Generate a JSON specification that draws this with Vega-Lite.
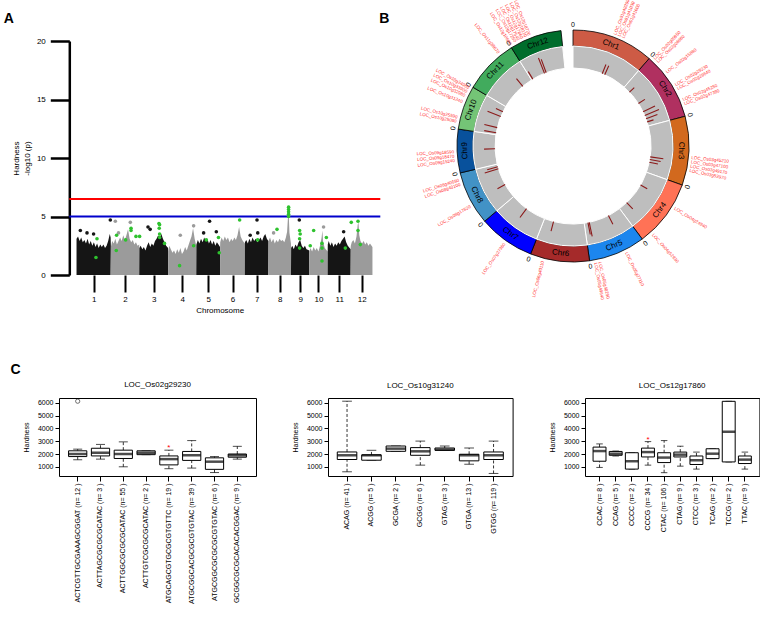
{
"$schema": "https://vega.github.io/schema/vega-lite/v6.json",
"padding": {"left": 3, "top": -2, "right": 0, "bottom": 0},
"autosize": {"type": "pad"},
"config": {
 "font": "Liberation Sans",
 "view": {"stroke": null},
 "axis": {"grid": false, "labelColor": "#000", "titleColor": "#000", "domainColor": "#000", "tickColor": "#000", "titleFontWeight": "normal", "labelFont": "Liberation Sans", "titleFont": "Liberation Sans", "labelOverlap": false},
 "title": {"font": "Liberation Sans", "color": "#000", "fontWeight": "normal"}
},
"datasets": {
 "mass": [
  {"chr":"1","pos":0.1,"val":3.1},{"chr":"1","pos":2,"val":3.3},{"chr":"1","pos":4,"val":2.9},{"chr":"1","pos":6,"val":3.2},{"chr":"1","pos":8,"val":2.8},{"chr":"1","pos":10,"val":3.0},{"chr":"1","pos":12,"val":2.7},{"chr":"1","pos":14,"val":3.1},{"chr":"1","pos":16,"val":2.6},{"chr":"1","pos":18,"val":2.9},{"chr":"1","pos":20,"val":2.5},{"chr":"1","pos":22,"val":2.8},{"chr":"1","pos":24,"val":2.4},{"chr":"1","pos":26,"val":2.7},{"chr":"1","pos":28,"val":2.3},{"chr":"1","pos":30,"val":2.6},{"chr":"1","pos":32,"val":2.4},{"chr":"1","pos":34,"val":2.6},{"chr":"1","pos":36,"val":2.3},{"chr":"1","pos":38,"val":2.5},{"chr":"1","pos":40,"val":2.9},{"chr":"1","pos":42,"val":3.5},{"chr":"1","pos":43.1,"val":3.2},
  {"chr":"2","pos":43.4,"val":2.4},{"chr":"2","pos":45,"val":2.9},{"chr":"2","pos":47,"val":2.7},{"chr":"2","pos":49,"val":3.1},{"chr":"2","pos":51,"val":2.6},{"chr":"2","pos":53,"val":2.9},{"chr":"2","pos":55,"val":3.2},{"chr":"2","pos":57,"val":2.9},{"chr":"2","pos":59,"val":3.4},{"chr":"2","pos":61,"val":3.0},{"chr":"2","pos":63,"val":3.4},{"chr":"2","pos":65,"val":3.9},{"chr":"2","pos":67,"val":3.1},{"chr":"2","pos":69,"val":2.8},{"chr":"2","pos":71,"val":3.0},{"chr":"2","pos":73,"val":2.6},{"chr":"2","pos":75,"val":2.8},{"chr":"2","pos":77,"val":2.5},{"chr":"2","pos":79.1,"val":2.6},
  {"chr":"3","pos":79.3,"val":2.3},{"chr":"3","pos":81,"val":2.5},{"chr":"3","pos":83,"val":2.2},{"chr":"3","pos":85,"val":2.4},{"chr":"3","pos":87,"val":2.1},{"chr":"3","pos":89,"val":2.5},{"chr":"3","pos":91,"val":2.8},{"chr":"3","pos":93,"val":2.4},{"chr":"3","pos":95,"val":2.7},{"chr":"3","pos":97,"val":2.5},{"chr":"3","pos":99,"val":2.9},{"chr":"3","pos":101,"val":3.1},{"chr":"3","pos":103,"val":3.4},{"chr":"3","pos":105,"val":3.2},{"chr":"3","pos":107,"val":3.5},{"chr":"3","pos":109,"val":3.1},{"chr":"3","pos":111,"val":2.8},{"chr":"3","pos":113,"val":2.5},{"chr":"3","pos":115.5,"val":2.3},
  {"chr":"4","pos":115.7,"val":2.0},{"chr":"4","pos":117,"val":2.5},{"chr":"4","pos":119,"val":2.2},{"chr":"4","pos":121,"val":1.9},{"chr":"4","pos":123,"val":2.1},{"chr":"4","pos":125,"val":1.8},{"chr":"4","pos":127,"val":2.2},{"chr":"4","pos":129,"val":1.9},{"chr":"4","pos":131,"val":2.3},{"chr":"4","pos":133,"val":1.8},{"chr":"4","pos":135,"val":2.0},{"chr":"4","pos":137,"val":2.4},{"chr":"4","pos":139,"val":2.1},{"chr":"4","pos":141,"val":2.5},{"chr":"4","pos":143,"val":2.9},{"chr":"4","pos":145,"val":3.3},{"chr":"4","pos":147,"val":4.0},{"chr":"4","pos":149,"val":3.1},{"chr":"4","pos":151,"val":2.5},
  {"chr":"5","pos":151.2,"val":2.6},{"chr":"5","pos":153,"val":3.0},{"chr":"5","pos":155,"val":2.7},{"chr":"5","pos":157,"val":3.1},{"chr":"5","pos":159,"val":2.8},{"chr":"5","pos":161,"val":3.2},{"chr":"5","pos":163,"val":2.9},{"chr":"5","pos":165,"val":3.1},{"chr":"5","pos":167,"val":2.7},{"chr":"5","pos":169,"val":3.0},{"chr":"5","pos":171,"val":2.6},{"chr":"5","pos":173,"val":2.9},{"chr":"5","pos":175,"val":2.5},{"chr":"5","pos":177,"val":2.8},{"chr":"5","pos":179,"val":2.6},{"chr":"5","pos":181,"val":2.4},
  {"chr":"6","pos":181.2,"val":2.8},{"chr":"6","pos":183,"val":3.2},{"chr":"6","pos":185,"val":2.9},{"chr":"6","pos":187,"val":3.3},{"chr":"6","pos":189,"val":3.0},{"chr":"6","pos":191,"val":3.2},{"chr":"6","pos":193,"val":2.8},{"chr":"6","pos":195,"val":3.1},{"chr":"6","pos":197,"val":2.9},{"chr":"6","pos":199,"val":3.2},{"chr":"6","pos":201,"val":3.0},{"chr":"6","pos":203,"val":3.4},{"chr":"6","pos":205,"val":4.1},{"chr":"6","pos":207,"val":3.3},{"chr":"6","pos":209,"val":3.0},{"chr":"6","pos":211,"val":2.8},{"chr":"6","pos":212.2,"val":2.7},
  {"chr":"7","pos":212.4,"val":2.8},{"chr":"7","pos":214,"val":3.0},{"chr":"7","pos":216,"val":2.7},{"chr":"7","pos":218,"val":3.1},{"chr":"7","pos":220,"val":2.8},{"chr":"7","pos":222,"val":3.2},{"chr":"7","pos":224,"val":2.9},{"chr":"7","pos":226,"val":3.1},{"chr":"7","pos":228,"val":2.8},{"chr":"7","pos":230,"val":3.0},{"chr":"7","pos":232,"val":3.2},{"chr":"7","pos":234,"val":2.9},{"chr":"7","pos":236,"val":3.3},{"chr":"7","pos":238,"val":3.5},{"chr":"7","pos":240,"val":3.1},{"chr":"7","pos":241.9,"val":2.9},
  {"chr":"8","pos":242.1,"val":2.9},{"chr":"8","pos":244,"val":3.2},{"chr":"8","pos":246,"val":2.8},{"chr":"8","pos":248,"val":3.1},{"chr":"8","pos":250,"val":2.7},{"chr":"8","pos":252,"val":3.0},{"chr":"8","pos":254,"val":2.8},{"chr":"8","pos":256,"val":3.1},{"chr":"8","pos":258,"val":2.9},{"chr":"8","pos":260,"val":3.0},{"chr":"8","pos":262,"val":2.8},{"chr":"8","pos":264,"val":3.2},{"chr":"8","pos":265.5,"val":3.7},{"chr":"8","pos":266.5,"val":4.8},{"chr":"8","pos":267.5,"val":5.3},{"chr":"8","pos":268.5,"val":3.6},{"chr":"8","pos":270.4,"val":2.7},
  {"chr":"9","pos":270.6,"val":2.3},{"chr":"9","pos":272,"val":2.5},{"chr":"9","pos":274,"val":2.2},{"chr":"9","pos":276,"val":2.6},{"chr":"9","pos":278,"val":2.4},{"chr":"9","pos":280,"val":2.8},{"chr":"9","pos":282,"val":3.0},{"chr":"9","pos":284,"val":2.5},{"chr":"9","pos":286,"val":2.3},{"chr":"9","pos":288,"val":2.5},{"chr":"9","pos":290,"val":2.2},{"chr":"9","pos":293.4,"val":2.1},
  {"chr":"10","pos":293.6,"val":2.0},{"chr":"10","pos":295,"val":2.3},{"chr":"10","pos":297,"val":2.0},{"chr":"10","pos":299,"val":2.4},{"chr":"10","pos":301,"val":2.1},{"chr":"10","pos":303,"val":2.3},{"chr":"10","pos":305,"val":2.0},{"chr":"10","pos":307,"val":2.5},{"chr":"10","pos":309,"val":3.2},{"chr":"10","pos":310,"val":3.8},{"chr":"10","pos":311,"val":2.8},{"chr":"10","pos":313,"val":2.3},{"chr":"10","pos":316.6,"val":2.0},
  {"chr":"11","pos":316.8,"val":2.6},{"chr":"11","pos":318,"val":2.9},{"chr":"11","pos":320,"val":2.5},{"chr":"11","pos":322,"val":2.8},{"chr":"11","pos":324,"val":2.4},{"chr":"11","pos":326,"val":2.7},{"chr":"11","pos":328,"val":2.5},{"chr":"11","pos":330,"val":2.8},{"chr":"11","pos":332,"val":2.6},{"chr":"11","pos":334,"val":2.9},{"chr":"11","pos":336,"val":3.1},{"chr":"11","pos":338,"val":3.3},{"chr":"11","pos":340,"val":2.8},{"chr":"11","pos":342,"val":2.5},{"chr":"11","pos":345.6,"val":2.2},
  {"chr":"12","pos":345.8,"val":2.5},{"chr":"12","pos":347,"val":2.8},{"chr":"12","pos":349,"val":3.0},{"chr":"12","pos":351,"val":2.7},{"chr":"12","pos":353,"val":3.3},{"chr":"12","pos":354.5,"val":4.3},{"chr":"12","pos":355.5,"val":4.5},{"chr":"12","pos":356.5,"val":3.4},{"chr":"12","pos":358,"val":2.9},{"chr":"12","pos":360,"val":2.7},{"chr":"12","pos":362,"val":2.9},{"chr":"12","pos":364,"val":2.6},{"chr":"12","pos":366,"val":2.8},{"chr":"12","pos":368,"val":2.5},{"chr":"12","pos":370,"val":2.7},{"chr":"12","pos":373.1,"val":2.4}
 ],
 "snps": [
  {"pos":4.9,"val":3.8,"type":"odd"},{"pos":13.3,"val":3.6,"type":"odd"},{"pos":21.6,"val":3.5,"type":"odd"},{"pos":42.7,"val":4.7,"type":"odd"},{"pos":49,"val":4.6,"type":"even"},{"pos":53,"val":3.6,"type":"even"},{"pos":67.9,"val":4.5,"type":"even"},{"pos":90.2,"val":4.1,"type":"odd"},{"pos":92.9,"val":3.9,"type":"odd"},{"pos":130.9,"val":3.4,"type":"even"},{"pos":147.7,"val":4.2,"type":"even"},{"pos":160.3,"val":3.6,"type":"odd"},{"pos":167.8,"val":4.6,"type":"odd"},{"pos":176.3,"val":3.7,"type":"odd"},{"pos":219,"val":3.4,"type":"odd"},{"pos":227.6,"val":4.7,"type":"odd"},{"pos":228.5,"val":3.6,"type":"odd"},{"pos":248.5,"val":3.6,"type":"even"},{"pos":280.9,"val":4.7,"type":"odd"},{"pos":311.5,"val":4.1,"type":"even"},{"pos":336.8,"val":3.7,"type":"odd"},
  {"pos":25.9,"val":3.1,"type":"hit"},{"pos":24.6,"val":1.5,"type":"hit"},{"pos":50.6,"val":3.4,"type":"hit"},{"pos":50.2,"val":2.1,"type":"hit"},{"pos":62,"val":3.0,"type":"hit"},{"pos":68.8,"val":4.0,"type":"hit"},{"pos":68.8,"val":3.8,"type":"hit"},{"pos":75,"val":3.3,"type":"hit"},{"pos":79.6,"val":3.3,"type":"hit"},{"pos":104,"val":4.4,"type":"hit"},{"pos":104.8,"val":4.3,"type":"hit"},{"pos":104.3,"val":4.0,"type":"hit"},{"pos":104.8,"val":3.5,"type":"hit"},{"pos":104.8,"val":3.2,"type":"hit"},{"pos":111,"val":2.7,"type":"hit"},{"pos":130,"val":0.8,"type":"hit"},{"pos":147.7,"val":2.5,"type":"hit"},{"pos":163.7,"val":3.0,"type":"hit"},{"pos":179,"val":3.2,"type":"hit"},{"pos":180,"val":1.9,"type":"hit"},{"pos":205.7,"val":4.7,"type":"hit"},{"pos":228.4,"val":3.0,"type":"hit"},{"pos":252.8,"val":3.9,"type":"hit"},{"pos":267.4,"val":5.8,"type":"hit"},{"pos":267.4,"val":5.6,"type":"hit"},{"pos":267.4,"val":5.4,"type":"hit"},{"pos":267.4,"val":5.2,"type":"hit"},{"pos":267.4,"val":5.0,"type":"hit"},{"pos":281.3,"val":3.8,"type":"hit"},{"pos":281.3,"val":3.1,"type":"hit"},{"pos":281.3,"val":2.3,"type":"hit"},{"pos":282,"val":3.5,"type":"hit"},{"pos":294.7,"val":2.5,"type":"hit"},{"pos":299,"val":3.8,"type":"hit"},{"pos":309.5,"val":2.7,"type":"hit"},{"pos":309.5,"val":2.3,"type":"hit"},{"pos":309.5,"val":1.2,"type":"hit"},{"pos":315,"val":3.2,"type":"hit"},{"pos":338.9,"val":2.3,"type":"hit"},{"pos":346.4,"val":4.5,"type":"hit"},{"pos":354.9,"val":4.6,"type":"hit"},{"pos":354.9,"val":3.8,"type":"hit"},{"pos":357.8,"val":2.6,"type":"hit"}
 ],
 "thresholds": [{"thr":6.5,"kind":"genome-wide"},{"thr":5,"kind":"suggestive"}],
 "letters": [{"letter":"A","lx":-91.6,"ly":21.51},{"letter":"B","lx":381.7,"ly":21.51}],
 "chroms": [
  {"chr":"Chr1","start":0,"end":43.27,"mid":21.64},{"chr":"Chr2","start":43.27,"end":79.21,"mid":61.24},{"chr":"Chr3","start":79.21,"end":115.62,"mid":97.42},{"chr":"Chr4","start":115.62,"end":151.12,"mid":133.37},{"chr":"Chr5","start":151.12,"end":181.08,"mid":166.1},{"chr":"Chr6","start":181.08,"end":212.33,"mid":196.71},{"chr":"Chr7","start":212.33,"end":242.03,"mid":227.18},{"chr":"Chr8","start":242.03,"end":270.47,"mid":256.25},{"chr":"Chr9","start":270.47,"end":293.48,"mid":281.98},{"chr":"Chr10","start":293.48,"end":316.69,"mid":305.09},{"chr":"Chr11","start":316.69,"end":345.71,"mid":331.2},{"chr":"Chr12","start":345.71,"end":373.24,"mid":359.48}
 ],
 "hits": [
  {"pos":23.2,"v":0.9},{"pos":25.3,"v":0.9},{"pos":48.9,"v":0.6},{"pos":60.1,"v":0.7},{"pos":67.5,"v":1.2},{"pos":70.6,"v":1.4},{"pos":73.3,"v":1.1},{"pos":75.9,"v":0.6},{"pos":103.3,"v":1.2},{"pos":105.4,"v":1.0},{"pos":107.5,"v":0.8},{"pos":126.5,"v":0.7},{"pos":143.9,"v":0.8},{"pos":161.3,"v":0.9},{"pos":177.1,"v":1.3},{"pos":178.1,"v":1.1},{"pos":205.0,"v":0.9},{"pos":228.3,"v":1.0},{"pos":253.5,"v":0.8},{"pos":266.7,"v":1.3},{"pos":268.3,"v":1.0},{"pos":282.5,"v":1.0},{"pos":295.0,"v":1.1},{"pos":299.0,"v":1.2},{"pos":308.0,"v":1.3},{"pos":312.0,"v":0.7},{"pos":337.3,"v":0.9},{"pos":346.8,"v":0.8},{"pos":356.9,"v":1.5},{"pos":358.3,"v":1.3}
 ],
 "locs": [
  {"label":"LOC_Os01g40290","pos":22.0},{"label":"LOC_Os01g41030","pos":24.2},{"label":"LOC_Os01g41600","pos":26.4},
  {"label":"LOC_Os02g05950","pos":45.6},{"label":"LOC_Os02g06860","pos":47.8},{"label":"LOC_Os02g15880","pos":54.8},{"label":"LOC_Os02g29230","pos":62.6},{"label":"LOC_Os02g29640","pos":64.8},{"label":"LOC_Os02g45250","pos":71.0},{"label":"LOC_Os02g47380","pos":73.2},
  {"label":"LOC_Os03g45210","pos":101.0},{"label":"LOC_Os03g47100","pos":103.2},{"label":"LOC_Os03g49170","pos":105.4},{"label":"LOC_Os03g53970","pos":107.6},
  {"label":"LOC_Os04g24940","pos":128.2},{"label":"LOC_Os04g52930","pos":145.5},
  {"label":"LOC_Os05g27110","pos":161.9},{"label":"LOC_Os05g48290","pos":176.2},{"label":"LOC_Os05g49640","pos":178.4},
  {"label":"LOC_Os06g40110","pos":205.0},{"label":"LOC_Os07g27360","pos":226.6},
  {"label":"LOC_Os08g17820","pos":252.4},{"label":"LOC_Os08g40100","pos":264.6},{"label":"LOC_Os08g40680","pos":266.8},
  {"label":"LOC_Os09g15240","pos":277.0},{"label":"LOC_Os09g18470","pos":279.2},{"label":"LOC_Os09g18590","pos":281.4},
  {"label":"LOC_Os10g25080","pos":297.0},{"label":"LOC_Os10g25590","pos":299.2},{"label":"LOC_Os10g31240","pos":307.4},{"label":"LOC_Os10g32980","pos":310.8},{"label":"LOC_Os10g33900","pos":313.0},{"label":"LOC_Os10g34960","pos":315.2},
  {"label":"LOC_Os11g38670","pos":338.6},
  {"label":"LOC_Os12g10680","pos":346.0},{"label":"LOC_Os12g17250","pos":348.6},{"label":"LOC_Os12g17540","pos":350.6},{"label":"LOC_Os12g17860","pos":352.6},{"label":"LOC_Os12g18110","pos":354.6},{"label":"LOC_Os12g18720","pos":356.6}
 ],
 "boxes": [
  {"gene":"LOC_Os02g29230","grp":"ACTCGTTGCGAAAGCGGAT (n= 12 )","lower":1550,"q1":1800,"med":2000,"q3":2250,"upper":2380},
  {"gene":"LOC_Os02g29230","grp":"ACTTAGCGCGCGCATAC (n= 3 )","lower":1600,"q1":1850,"med":2100,"q3":2450,"upper":2750},
  {"gene":"LOC_Os02g29230","grp":"ACTTGGCGCGCGCATAC (n= 55 )","lower":1000,"q1":1650,"med":2000,"q3":2300,"upper":2950},
  {"gene":"LOC_Os02g29230","grp":"ACTTGTCGCGCGCATAC (n= 2 )","lower":1950,"q1":1950,"med":2100,"q3":2250,"upper":2250},
  {"gene":"LOC_Os02g29230","grp":"ATGCAGCGTGCGCGTGTTC (n= 19 )","lower":850,"q1":1150,"med":1600,"q3":1850,"upper":2300},
  {"gene":"LOC_Os02g29230","grp":"ATGCGGCACGCGCGTGTAC (n= 39 )","lower":900,"q1":1500,"med":1900,"q3":2200,"upper":3050},
  {"gene":"LOC_Os02g29230","grp":"ATGCGGCGCGCGCGTGTAC (n= 6 )","lower":550,"q1":800,"med":1400,"q3":1700,"upper":1800},
  {"gene":"LOC_Os02g29230","grp":"GCGGCGCGCACACACGGAC (n= 9 )","lower":1600,"q1":1750,"med":1900,"q3":2000,"upper":2600},
  {"gene":"LOC_Os10g31240","grp":"ACAG (n= 41 )","lower":610,"q1":1570,"med":1900,"q3":2160,"upper":6130},
  {"gene":"LOC_Os10g31240","grp":"ACGG (n= 5 )","lower":1515,"q1":1515,"med":1900,"q3":1930,"upper":2290},
  {"gene":"LOC_Os10g31240","grp":"GCGA (n= 2 )","lower":2210,"q1":2210,"med":2420,"q3":2625,"upper":2625},
  {"gene":"LOC_Os10g31240","grp":"GCGG (n= 6 )","lower":1130,"q1":1900,"med":2210,"q3":2500,"upper":3010},
  {"gene":"LOC_Os10g31240","grp":"GTAG (n= 3 )","lower":2290,"q1":2290,"med":2340,"q3":2470,"upper":2625},
  {"gene":"LOC_Os10g31240","grp":"GTGA (n= 13 )","lower":1200,"q1":1465,"med":1900,"q3":1980,"upper":2470},
  {"gene":"LOC_Os10g31240","grp":"GTGG (n= 119 )","lower":480,"q1":1570,"med":1900,"q3":2160,"upper":3010},
  {"gene":"LOC_Os12g17860","grp":"CCAC (n= 8 )","lower":950,"q1":1435,"med":2230,"q3":2540,"upper":2790},
  {"gene":"LOC_Os12g17860","grp":"CCAG (n= 5 )","lower":1845,"q1":1900,"med":2025,"q3":2200,"upper":2230},
  {"gene":"LOC_Os12g17860","grp":"CCCC (n= 2 )","lower":820,"q1":820,"med":1435,"q3":2100,"upper":2100},
  {"gene":"LOC_Os12g17860","grp":"CCCG (n= 34 )","lower":1130,"q1":1770,"med":2150,"q3":2460,"upper":2970},
  {"gene":"LOC_Os12g17860","grp":"CTAC (n= 106 )","lower":540,"q1":1330,"med":1720,"q3":2100,"upper":3050},
  {"gene":"LOC_Os12g17860","grp":"CTAG (n= 9 )","lower":1050,"q1":1770,"med":1950,"q3":2150,"upper":2610},
  {"gene":"LOC_Os12g17860","grp":"CTCC (n= 3 )","lower":820,"q1":1180,"med":1510,"q3":1845,"upper":2150},
  {"gene":"LOC_Os12g17860","grp":"TCAG (n= 2 )","lower":1640,"q1":1640,"med":2025,"q3":2410,"upper":2410},
  {"gene":"LOC_Os12g17860","grp":"TCCG (n= 2 )","lower":1380,"q1":1380,"med":3740,"q3":6120,"upper":6120},
  {"gene":"LOC_Os12g17860","grp":"TTAC (n= 9 )","lower":820,"q1":1255,"med":1560,"q3":1845,"upper":2150}
 ],
 "outl": [
  {"gene":"LOC_Os02g29230","grp":"ACTCGTTGCGAAAGCGGAT (n= 12 )","val":6130,"kind":"outlier"},
  {"gene":"LOC_Os02g29230","grp":"ATGCAGCGTGCGCGTGTTC (n= 19 )","val":2650,"kind":"sig"},
  {"gene":"LOC_Os12g17860","grp":"CCCG (n= 34 )","val":3230,"kind":"sig"}
 ]
},
"spacing": 48,
"vconcat": [
 {
  "spacing": 10,
  "bounds": "flush",
  "hconcat": [
   {
    "width": 321.3, "height": 234,
    "resolve": {"scale": {"color": "independent"}},
    "layer": [
     {"data": {"name": "mass"}, "mark": {"type": "area", "interpolate": "linear"},
      "encoding": {
       "x": {"field": "pos", "type": "quantitative", "scale": {"domain": [-22, 383], "nice": false, "zero": false},
             "axis": {"values": [21.64,61.24,97.42,133.37,166.1,196.71,227.18,256.25,281.98,305.09,331.2,359.48], "tickCount": 50, "labelExpr": "indexof([21.64,61.24,97.42,133.37,166.1,196.71,227.18,256.25,281.98,305.09,331.2,359.48], datum.value) + 1", "labelOverlap": false, "domain": false, "tickSize": 17, "tickWidth": 2, "labelFontSize": 8, "labelPadding": 3, "labelAngle": 0, "title": "Chromosome", "titleFontSize": 8, "titlePadding": 3}},
       "y": {"field": "val", "type": "quantitative", "scale": {"domain": [0, 20], "nice": false},
             "axis": {"values": [0,5,10,15,20], "tickCount": 50, "format": "d", "offset": -10.3, "tickSize": 19, "tickWidth": 2.5, "domainWidth": 2.5, "labelFontSize": 8, "labelPadding": 5, "title": ["Hardness", "-log10 (p)"], "titleFontSize": 8, "titlePadding": 5, "titleLineHeight": 11}},
       "color": {"field": "chr", "type": "nominal", "scale": {"domain": ["1","2","3","4","5","6","7","8","9","10","11","12"], "range": ["#151515","#9b9b9b","#151515","#9b9b9b","#151515","#9b9b9b","#151515","#9b9b9b","#151515","#9b9b9b","#151515","#9b9b9b"]}, "legend": null}
      }},
     {"data": {"name": "thresholds"}, "mark": {"type": "rule", "strokeWidth": 2},
      "encoding": {
       "x": {"datum": -9}, "x2": {"datum": 383},
       "y": {"field": "thr", "type": "quantitative"},
       "color": {"field": "kind", "type": "nominal", "scale": {"domain": ["genome-wide", "suggestive"], "range": ["#ff0000", "#0000cc"]}, "legend": null}
      }},
     {"data": {"name": "snps"}, "mark": {"type": "circle", "size": 13, "opacity": 1},
      "encoding": {
       "x": {"field": "pos", "type": "quantitative"},
       "y": {"field": "val", "type": "quantitative"},
       "color": {"field": "type", "type": "nominal", "scale": {"domain": ["odd", "even", "hit"], "range": ["#151515", "#9b9b9b", "#2ec22e"]}, "legend": null}
      }},
     {"data": {"name": "letters"}, "mark": {"type": "text", "fontSize": 14, "fontWeight": "bold", "align": "left", "baseline": "alphabetic", "color": "#000"},
      "encoding": {
       "x": {"field": "lx", "type": "quantitative"},
       "y": {"field": "ly", "type": "quantitative"},
       "text": {"field": "letter"}
      }}
    ]
   },
   {
    "width": 364, "height": 210,
    "resolve": {"scale": {"angle": "independent"}},
    "layer": [
     {"data": {"name": "chroms"}, "mark": {"type": "arc", "outerRadius": 116, "innerRadius": 100, "stroke": "#000", "strokeWidth": 0.8},
      "encoding": {
       "theta": {"field": "start", "type": "quantitative", "stack": null, "scale": {"domain": [0, 379.5], "nice": false, "zero": false}},
       "theta2": {"field": "end"},
       "color": {"field": "chr", "type": "nominal", "scale": {"domain": ["Chr1","Chr2","Chr3","Chr4","Chr5","Chr6","Chr7","Chr8","Chr9","Chr10","Chr11","Chr12"], "range": ["#CD5B45","#B03060","#D2691E","#FF7256","#1C86EE","#A52A2A","#0000FF","#4292C6","#08519C","#74C476","#41AB5D","#006D2C"]}, "legend": null}
      }},
     {"data": {"name": "chroms"}, "mark": {"type": "arc", "outerRadius": 100, "innerRadius": 78, "fill": "#bebebe", "stroke": "#ffffff", "strokeWidth": 1},
      "encoding": {
       "theta": {"field": "start", "type": "quantitative", "stack": null},
       "theta2": {"field": "end"}
      }},
     {"data": {"name": "hits"}, "mark": {"type": "arc", "fill": "#8b1a1a", "stroke": "#8b1a1a", "strokeWidth": 1.1},
      "encoding": {
       "theta": {"field": "pos", "type": "quantitative", "stack": null},
       "theta2": {"field": "pos"},
       "radius": {"field": "v", "type": "quantitative", "scale": {"type": "linear", "domain": [0, 2], "range": [78, 100], "zero": false}},
       "radius2": {"datum": 0}
      }},
     {"data": {"name": "chroms"}, "transform": [{"filter": "datum.mid < 120 || datum.mid > 265"}],
      "mark": {"type": "text", "radius": 108, "fontSize": 8, "align": "center", "baseline": "middle", "color": "#000"},
      "encoding": {
       "theta": {"field": "mid", "type": "quantitative", "stack": null},
       "angle": {"field": "mid", "type": "quantitative", "scale": {"domain": [0, 379.5], "range": [0, 360]}},
       "text": {"field": "chr"}
      }},
     {"data": {"name": "chroms"}, "transform": [{"filter": "datum.mid >= 120 && datum.mid <= 265"}],
      "mark": {"type": "text", "radius": 108, "fontSize": 8, "align": "center", "baseline": "middle", "color": "#000"},
      "encoding": {
       "theta": {"field": "mid", "type": "quantitative", "stack": null},
       "angle": {"field": "mid", "type": "quantitative", "scale": {"domain": [0, 379.5], "range": [-180, 180]}},
       "text": {"field": "chr"}
      }},
     {"data": {"name": "chroms"},
      "mark": {"type": "text", "radius": 121, "fontSize": 7, "align": "center", "baseline": "middle", "color": "#000", "text": "0"},
      "encoding": {
       "theta": {"field": "start", "type": "quantitative", "stack": null},
       "angle": {"field": "start", "type": "quantitative", "scale": {"domain": [0, 379.5], "range": [0, 360]}}
      }},
     {"data": {"name": "locs"}, "transform": [{"filter": "datum.pos < 189.75"}],
      "mark": {"type": "text", "radius": 119, "fontSize": 4.5, "align": "left", "baseline": "middle", "color": "#ff3030"},
      "encoding": {
       "theta": {"field": "pos", "type": "quantitative", "stack": null},
       "angle": {"field": "pos", "type": "quantitative", "scale": {"domain": [0, 379.5], "range": [-90, 270]}},
       "text": {"field": "label"}
      }},
     {"data": {"name": "locs"}, "transform": [{"filter": "datum.pos >= 189.75"}],
      "mark": {"type": "text", "radius": 119, "fontSize": 4.5, "align": "right", "baseline": "middle", "color": "#ff3030"},
      "encoding": {
       "theta": {"field": "pos", "type": "quantitative", "stack": null},
       "angle": {"field": "pos", "type": "quantitative", "scale": {"domain": [0, 379.5], "range": [-270, 90]}},
       "text": {"field": "label"}
      }}
    ]
   }
  ]
 },
 {
  "spacing": 72,
  "bounds": "flush",
  "title": {"text": "C", "anchor": "start", "fontSize": 14, "fontWeight": "bold", "dx": -11.4, "offset": 4},
  "hconcat": [
   {
    "width": 197, "height": 78,
    "view": {"stroke": "#000", "strokeWidth": 1},
    "title": {"text": "LOC_Os02g29230", "fontSize": 8, "fontWeight": "normal", "offset": 8},
    "encoding": {"x": {"field": "grp", "type": "nominal", "scale": {"domain": ["ACTCGTTGCGAAAGCGGAT (n= 12 )","ACTTAGCGCGCGCATAC (n= 3 )","ACTTGGCGCGCGCATAC (n= 55 )","ACTTGTCGCGCGCATAC (n= 2 )","ATGCAGCGTGCGCGTGTTC (n= 19 )","ATGCGGCACGCGCGTGTAC (n= 39 )","ATGCGGCGCGCGCGTGTAC (n= 6 )","GCGGCGCGCACACACGGAC (n= 9 )"], "paddingInner": 0.2, "paddingOuter": 0.42}, "axis": {"labelAngle": -90, "labelFontSize": 7, "tickSize": 5, "domain": false, "title": null, "labelPadding": 2, "labelLimit": 250}}},
    "layer": [
     {"data": {"name": "boxes"}, "transform": [{"filter": "datum.gene == 'LOC_Os02g29230'"}], "mark": {"type": "rule", "strokeDash": [3, 2], "strokeWidth": 0.8, "color": "#000"},
      "encoding": {"y": {"field": "lower", "type": "quantitative", "title": "Hardness", "scale": {"domain": [280, 6380], "nice": false, "zero": false}, "axis": {"values": [1000,2000,3000,4000,5000,6000], "tickCount": 50, "format": "d", "tickSize": 4, "labelFontSize": 7, "labelPadding": 2, "domain": false, "titleFontSize": 7, "titlePadding": 8}}, "y2": {"field": "q1"}}},
     {"data": {"name": "boxes"}, "transform": [{"filter": "datum.gene == 'LOC_Os02g29230'"}], "mark": {"type": "rule", "strokeDash": [3, 2], "strokeWidth": 0.8, "color": "#000"},
      "encoding": {"y": {"field": "q3", "type": "quantitative", "title": "Hardness"}, "y2": {"field": "upper"}}},
     {"data": {"name": "boxes"}, "transform": [{"filter": "datum.gene == 'LOC_Os02g29230'"}], "mark": {"type": "tick", "size": 9, "thickness": 1, "color": "#000"},
      "encoding": {"y": {"field": "lower", "type": "quantitative", "title": "Hardness"}}},
     {"data": {"name": "boxes"}, "transform": [{"filter": "datum.gene == 'LOC_Os02g29230'"}], "mark": {"type": "tick", "size": 9, "thickness": 1, "color": "#000"},
      "encoding": {"y": {"field": "upper", "type": "quantitative", "title": "Hardness"}}},
     {"data": {"name": "boxes"}, "transform": [{"filter": "datum.gene == 'LOC_Os02g29230'"}], "mark": {"type": "bar", "fill": "#fff", "stroke": "#000", "strokeWidth": 1},
      "encoding": {"y": {"field": "q1", "type": "quantitative", "title": "Hardness"}, "y2": {"field": "q3"}}},
     {"data": {"name": "boxes"}, "transform": [{"filter": "datum.gene == 'LOC_Os02g29230'"}], "mark": {"type": "tick", "size": 18.2, "thickness": 2.5, "color": "#000"},
      "encoding": {"y": {"field": "med", "type": "quantitative", "title": "Hardness"}}},
     {"data": {"name": "outl"}, "transform": [{"filter": "datum.gene == 'LOC_Os02g29230' && datum.kind == 'outlier'"}], "mark": {"type": "point", "shape": "circle", "filled": false, "size": 18, "color": "#000", "strokeWidth": 0.8},
      "encoding": {"y": {"field": "val", "type": "quantitative", "title": "Hardness"}}},
     {"data": {"name": "outl"}, "transform": [{"filter": "datum.gene == 'LOC_Os02g29230' && datum.kind == 'sig'"}], "mark": {"type": "text", "text": "*", "color": "#ff0000", "fontSize": 8, "baseline": "middle", "dy": 2},
      "encoding": {"y": {"field": "val", "type": "quantitative", "title": "Hardness"}}}
    ]
   },
   {
    "width": 184.6, "height": 78,
    "view": {"stroke": "#000", "strokeWidth": 1},
    "title": {"text": "LOC_Os10g31240", "fontSize": 8, "fontWeight": "normal", "offset": 8},
    "encoding": {"x": {"field": "grp", "type": "nominal", "scale": {"domain": ["ACAG (n= 41 )","ACGG (n= 5 )","GCGA (n= 2 )","GCGG (n= 6 )","GTAG (n= 3 )","GTGA (n= 13 )","GTGG (n= 119 )"], "paddingInner": 0.2, "paddingOuter": 0.38}, "axis": {"labelAngle": -90, "labelFontSize": 7, "tickSize": 5, "domain": false, "title": null, "labelPadding": 2, "labelLimit": 250}}},
    "layer": [
     {"data": {"name": "boxes"}, "transform": [{"filter": "datum.gene == 'LOC_Os10g31240'"}], "mark": {"type": "rule", "strokeDash": [3, 2], "strokeWidth": 0.8, "color": "#000"},
      "encoding": {"y": {"field": "lower", "type": "quantitative", "title": "Hardness", "scale": {"domain": [280, 6380], "nice": false, "zero": false}, "axis": {"values": [1000,2000,3000,4000,5000,6000], "tickCount": 50, "format": "d", "tickSize": 4, "labelFontSize": 7, "labelPadding": 2, "domain": false, "titleFontSize": 7, "titlePadding": 8}}, "y2": {"field": "q1"}}},
     {"data": {"name": "boxes"}, "transform": [{"filter": "datum.gene == 'LOC_Os10g31240'"}], "mark": {"type": "rule", "strokeDash": [3, 2], "strokeWidth": 0.8, "color": "#000"},
      "encoding": {"y": {"field": "q3", "type": "quantitative", "title": "Hardness"}, "y2": {"field": "upper"}}},
     {"data": {"name": "boxes"}, "transform": [{"filter": "datum.gene == 'LOC_Os10g31240'"}], "mark": {"type": "tick", "size": 9.7, "thickness": 1, "color": "#000"},
      "encoding": {"y": {"field": "lower", "type": "quantitative", "title": "Hardness"}}},
     {"data": {"name": "boxes"}, "transform": [{"filter": "datum.gene == 'LOC_Os10g31240'"}], "mark": {"type": "tick", "size": 9.7, "thickness": 1, "color": "#000"},
      "encoding": {"y": {"field": "upper", "type": "quantitative", "title": "Hardness"}}},
     {"data": {"name": "boxes"}, "transform": [{"filter": "datum.gene == 'LOC_Os10g31240'"}], "mark": {"type": "bar", "fill": "#fff", "stroke": "#000", "strokeWidth": 1},
      "encoding": {"y": {"field": "q1", "type": "quantitative", "title": "Hardness"}, "y2": {"field": "q3"}}},
     {"data": {"name": "boxes"}, "transform": [{"filter": "datum.gene == 'LOC_Os10g31240'"}], "mark": {"type": "tick", "size": 19.5, "thickness": 2.5, "color": "#000"},
      "encoding": {"y": {"field": "med", "type": "quantitative", "title": "Hardness"}}}
    ]
   },
   {
    "width": 174.4, "height": 78,
    "view": {"stroke": "#000", "strokeWidth": 1},
    "title": {"text": "LOC_Os12g17860", "fontSize": 8, "fontWeight": "normal", "offset": 8},
    "encoding": {"x": {"field": "grp", "type": "nominal", "scale": {"domain": ["CCAC (n= 8 )","CCAG (n= 5 )","CCCC (n= 2 )","CCCG (n= 34 )","CTAC (n= 106 )","CTAG (n= 9 )","CTCC (n= 3 )","TCAG (n= 2 )","TCCG (n= 2 )","TTAC (n= 9 )"], "paddingInner": 0.2, "paddingOuter": 0.5}, "axis": {"labelAngle": -90, "labelFontSize": 7, "tickSize": 5, "domain": false, "title": null, "labelPadding": 2, "labelLimit": 250}}},
    "layer": [
     {"data": {"name": "boxes"}, "transform": [{"filter": "datum.gene == 'LOC_Os12g17860'"}], "mark": {"type": "rule", "strokeDash": [3, 2], "strokeWidth": 0.8, "color": "#000"},
      "encoding": {"y": {"field": "lower", "type": "quantitative", "title": "Hardness", "scale": {"domain": [280, 6380], "nice": false, "zero": false}, "axis": {"values": [1000,2000,3000,4000,5000,6000], "tickCount": 50, "format": "d", "tickSize": 4, "labelFontSize": 7, "labelPadding": 2, "domain": false, "titleFontSize": 7, "titlePadding": 8}}, "y2": {"field": "q1"}}},
     {"data": {"name": "boxes"}, "transform": [{"filter": "datum.gene == 'LOC_Os12g17860'"}], "mark": {"type": "rule", "strokeDash": [3, 2], "strokeWidth": 0.8, "color": "#000"},
      "encoding": {"y": {"field": "q3", "type": "quantitative", "title": "Hardness"}, "y2": {"field": "upper"}}},
     {"data": {"name": "boxes"}, "transform": [{"filter": "datum.gene == 'LOC_Os12g17860'"}], "mark": {"type": "tick", "size": 6.5, "thickness": 1, "color": "#000"},
      "encoding": {"y": {"field": "lower", "type": "quantitative", "title": "Hardness"}}},
     {"data": {"name": "boxes"}, "transform": [{"filter": "datum.gene == 'LOC_Os12g17860'"}], "mark": {"type": "tick", "size": 6.5, "thickness": 1, "color": "#000"},
      "encoding": {"y": {"field": "upper", "type": "quantitative", "title": "Hardness"}}},
     {"data": {"name": "boxes"}, "transform": [{"filter": "datum.gene == 'LOC_Os12g17860'"}], "mark": {"type": "bar", "fill": "#fff", "stroke": "#000", "strokeWidth": 1},
      "encoding": {"y": {"field": "q1", "type": "quantitative", "title": "Hardness"}, "y2": {"field": "q3"}}},
     {"data": {"name": "boxes"}, "transform": [{"filter": "datum.gene == 'LOC_Os12g17860'"}], "mark": {"type": "tick", "size": 12.9, "thickness": 2.5, "color": "#000"},
      "encoding": {"y": {"field": "med", "type": "quantitative", "title": "Hardness"}}},
     {"data": {"name": "outl"}, "transform": [{"filter": "datum.gene == 'LOC_Os12g17860' && datum.kind == 'sig'"}], "mark": {"type": "text", "text": "*", "color": "#ff0000", "fontSize": 8, "baseline": "middle", "dy": 2},
      "encoding": {"y": {"field": "val", "type": "quantitative", "title": "Hardness"}}}
    ]
   }
  ]
 }
]
}
